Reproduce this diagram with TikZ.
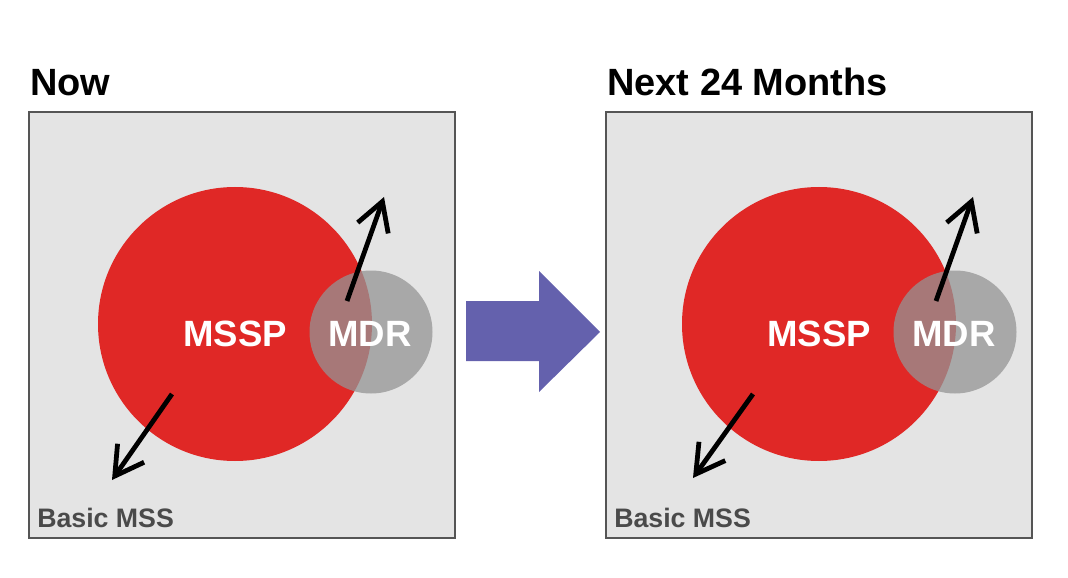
\documentclass[tikz,border=0pt]{standalone}
\usepackage{fontspec}
\setmainfont{Liberation Sans}
\usetikzlibrary{arrows.meta, positioning}

\definecolor{boxgray}{RGB}{228,228,228}
\definecolor{framegray}{RGB}{85,85,85}
\definecolor{msspred}{RGB}{224,40,38}
\definecolor{mdrgray}{RGB}{148,148,148}
\definecolor{labelgray}{RGB}{74,74,74}
\definecolor{bigarrow}{RGB}{100,97,173}

\tikzset{
  panel/.style={draw=framegray, line width=1.4pt, fill=boxgray},
  title/.style={anchor=base west, inner sep=0pt, font=\bfseries\fontsize{27}{30}\selectfont},
  mssp/.style={circle, fill=msspred, minimum size=274\pxu, inner sep=0pt},
  mdr/.style={circle, fill=mdrgray, fill opacity=0.75, minimum size=123\pxu, inner sep=0pt},
  inlabel/.style={anchor=base, inner sep=0pt, text=white, font=\bfseries\fontsize{26}{28}\selectfont},
  basic/.style={anchor=base west, inner sep=0pt, text=labelgray, font=\bfseries\fontsize{19}{22}\selectfont},
  trend/.style={line width=3.4pt, -{Straight Barb[length=20pt,width=23pt]}}
}
\newlength{\pxu}
\setlength{\pxu}{0.025cm}

\begin{document}
\begin{tikzpicture}[x=0.025cm, y=-0.025cm]
  \useasboundingbox (0,0) rectangle (1068,578);

  % now
  \node[title] (nowtitle) at (30,96) {Now};
  \draw[panel] (29,112) rectangle (455,538);
  \node[mssp] (msspa) at (235,324) {};
  \node[mdr] (mdra) at (371,332) {};
  \node[inlabel] (msspatxt) at (235,346) {MSSP};
  \node[inlabel] (mdratxt) at (370,346) {MDR};
  \coordinate (upa0) at (347,301);
  \coordinate (upa1) at (384,197);
  \coordinate (dna0) at (172,394);
  \coordinate (dna1) at (112,480);
  \draw[trend] (upa0) -- (upa1);
  \draw[trend] (dna0) -- (dna1);
  \node[basic] (basica) at (37,527) {Basic MSS};

  % arrow between
  \fill[bigarrow] (466,301) -- (539,301) -- (539,271) -- (600,332)
    -- (539,392) -- (539,361) -- (466,361) -- cycle;

  % next 24 months
  \node[title] (nexttitle) at (607,96) {Next 24 Months};
  \draw[panel] (606,112) rectangle (1032,538);
  \node[mssp] (msspb) at (819,324) {};
  \node[mdr] (mdrb) at (955,332) {};
  \node[inlabel] (msspbtxt) at (819,346) {MSSP};
  \node[inlabel] (mdrbtxt) at (954,346) {MDR};
  \coordinate (upb0) at (936,301);
  \coordinate (upb1) at (973,197);
  \coordinate (dnb0) at (753,394);
  \coordinate (dnb1) at (693,478);
  \draw[trend] (upb0) -- (upb1);
  \draw[trend] (dnb0) -- (dnb1);
  \node[basic] (basicb) at (614,527) {Basic MSS};
\end{tikzpicture}
\end{document}
